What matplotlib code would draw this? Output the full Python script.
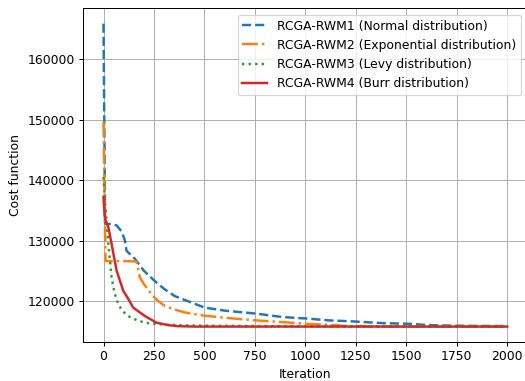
import matplotlib
matplotlib.use("Agg")
import matplotlib.pyplot as plt

labels = ["RCGA-RWM1 (Normal distribution)",
          "RCGA-RWM2 (Exponential distribution)",
          "RCGA-RWM3 (Levy distribution)",
          "RCGA-RWM4 (Burr distribution)"]

rwm1_x = [0, 8, 40, 65, 90, 106, 114, 155, 200, 254, 300, 353, 400, 501, 600, 757, 888, 1003, 1118, 1217, 1382, 1514, 1612, 1744, 2000]
rwm1_y = [165900, 132800, 132700, 132500, 131500, 130000, 128300, 127000, 125000, 123300, 122000, 120800, 120200, 118900, 118400, 117900, 117330, 117100, 116780, 116650, 116330, 116220, 116000, 115900, 115830]

rwm2_x = [0, 10, 50, 100, 150, 164, 180, 200, 238, 270, 304, 350, 402, 501, 641, 757, 888, 1003, 1118, 1217, 1400, 2000]
rwm2_y = [149700, 126600, 126600, 126600, 126550, 126500, 123900, 122800, 121100, 120000, 119170, 118600, 118100, 117550, 117100, 116780, 116500, 116220, 116050, 115850, 115760, 115760]

rwm3_x = [0, 8, 16, 24, 40, 55, 73, 95, 122, 160, 205, 260, 320, 400, 500, 1000, 2000]
rwm3_y = [140500, 136000, 132800, 129450, 123900, 121300, 119450, 118300, 117500, 116900, 116400, 116200, 116050, 115950, 115900, 115800, 115760]

rwm4_x = [0, 7, 24, 40, 65, 98, 120, 147, 205, 263, 320, 369, 450, 2000]
rwm4_y = [137200, 133600, 132200, 129450, 125000, 121670, 120500, 118900, 117500, 116400, 116000, 115830, 115760, 115760]

DPI = 89
fig = plt.figure(figsize=(525 / DPI, 381 / DPI), dpi=DPI)
ax = fig.add_axes([0.1587, 0.1031, 0.846, 0.8746])

ax.plot(rwm1_x, rwm1_y, linestyle="--", color="C0", lw=2, label=labels[0])
ax.plot(rwm2_x, rwm2_y, linestyle="-.", color="C1", lw=2, label=labels[1])
ax.plot(rwm3_x, rwm3_y, linestyle=":", color="C2", lw=2, label=labels[2])
ax.plot(rwm4_x, rwm4_y, linestyle="-", color="C3", lw=2, label=labels[3])

ax.set_xticks([0, 250, 500, 750, 1000, 1250, 1500, 1750, 2000])
ax.grid(True)
ax.set_xlabel("Iteration")
ax.set_ylabel("Cost function")
ax.legend(loc="upper right")

fig.savefig("out.png", dpi=DPI)
